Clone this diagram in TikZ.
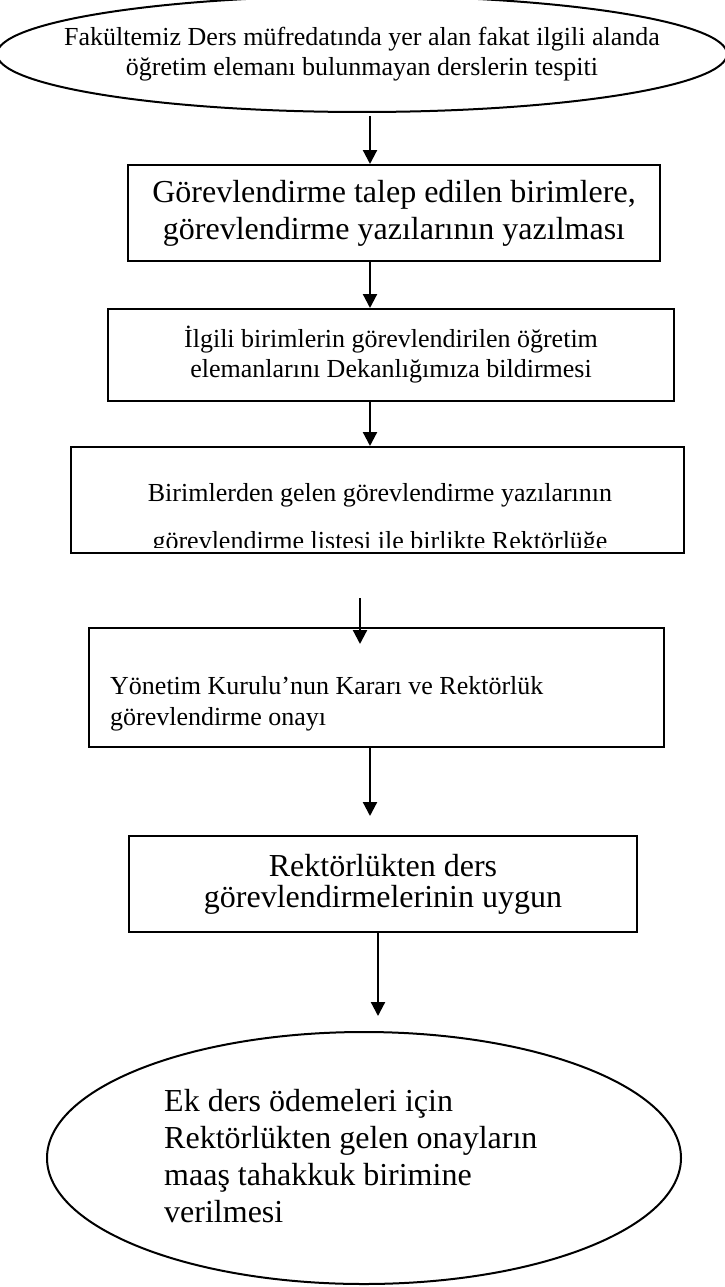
\documentclass[tikz,border=0pt]{standalone}
\usepackage{fontspec}
\setmainfont{Liberation Serif}
\usetikzlibrary{shapes.geometric,arrows.meta}
\tikzset{
  stepbox/.style={draw, line width=2pt, inner sep=0pt},
  oval/.style={draw, ellipse, line width=2pt, inner sep=0pt},
  smalltext/.style={font=\fontsize{26}{30}\selectfont, align=center, inner sep=0pt},
  bigtext/.style={font=\fontsize{32}{37}\selectfont, align=center, inner sep=0pt},
  arr/.style={line width=2.2pt, -{Triangle[length=14pt,width=14pt]}}
}
\begin{document}
\begin{tikzpicture}[x=1pt, y=-1pt]
\useasboundingbox (0,0) rectangle (725,1287);
% start
\node[oval, minimum width=730pt, minimum height=116pt] (e1) at (362,54){};
\node[smalltext] (e1t) at (362,54){Fakültemiz Ders müfredatında yer alan fakat ilgili alanda\\öğretim elemanı bulunmayan derslerin tespiti};
% steps
\node[stepbox, bigtext, minimum width=532pt, minimum height=96pt] (b2) at (394,213){Görevlendirme talep edilen birimlere,\\görevlendirme yazılarının yazılması};
\node[stepbox, smalltext, minimum width=566pt, minimum height=92pt] (b3) at (391,355){İlgili birimlerin görevlendirilen öğretim\\elemanlarını Dekanlığımıza bildirmesi};
\node[stepbox, minimum width=613pt, minimum height=106pt] (b4) at (377.5,500){};
\begin{scope}
\clip (b4.north west) rectangle (684,547);
\node[smalltext, font=\fontsize{26}{48}\selectfont] (b4t) at (380,519){Birimlerden gelen görevlendirme yazılarının\\görevlendirme listesi ile birlikte Rektörlüğe};
\end{scope}
\coordinate (gap) at (360,598);
\node[stepbox, minimum width=575pt, minimum height=119pt] (b5) at (376.5,687.5){};
\node[smalltext, font=\fontsize{26}{31}\selectfont, align=left, anchor=west] (b5t) at (110,704){Yönetim Kurulu’nun Kararı ve Rektörlük\\görevlendirme onayı};
\node[stepbox, bigtext, font=\fontsize{32}{31}\selectfont, minimum width=508pt, minimum height=96pt] (b6) at (383,884){Rektörlükten ders\\görevlendirmelerinin uygun};
% end
\node[oval, minimum width=634pt, minimum height=252pt] (e2) at (364,1158){};
\node[bigtext, align=left, anchor=west] (e2t) at (164,1156){Ek ders ödemeleri için\\Rektörlükten gelen onayların\\maaş tahakkuk birimine\\verilmesi};
% arrows
\coordinate (ax) at (370,0);
\coordinate (bx) at (378,0);
\draw[arr, shorten <=3pt](e1.south -| ax) -- (b2.north -| ax);
\draw[arr](b2.south -| ax) -- (b3.north -| ax);
\draw[arr](b3.south -| ax) -- (b4.north -| ax);
\draw[arr, shorten >=-17pt](gap) -- (gap |- b5.north);
\draw[arr, shorten >=19pt](b5.south -| ax) -- (b6.north -| ax);
\draw[arr, shorten >=15pt](b6.south -| bx) -- (e2.north -| bx);
\end{tikzpicture}
\end{document}
